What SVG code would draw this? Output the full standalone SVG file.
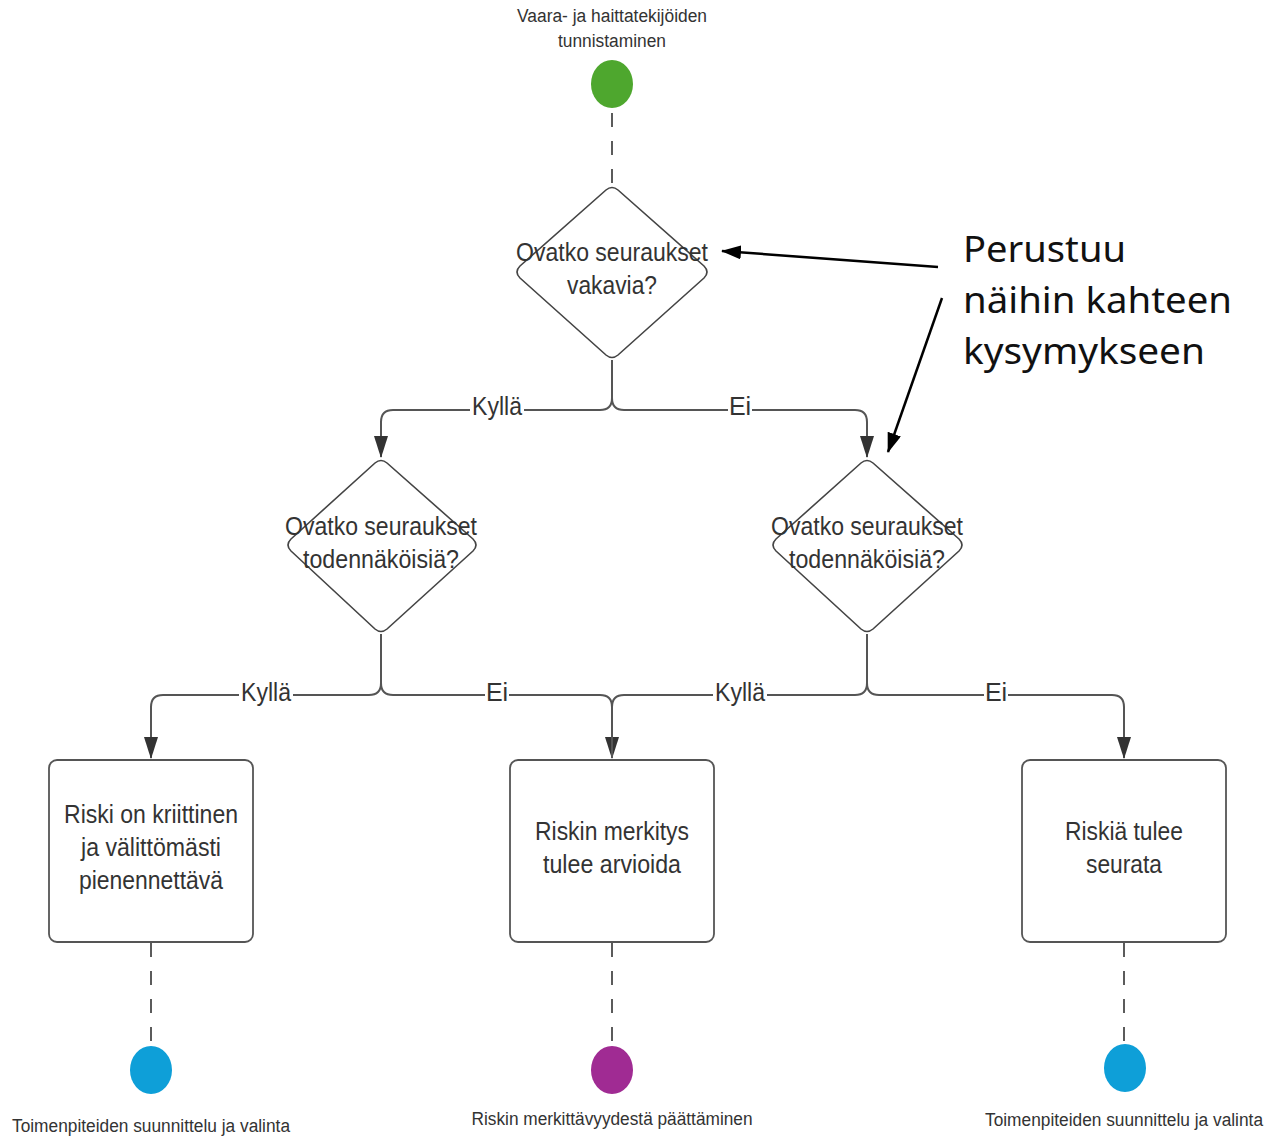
<svg xmlns="http://www.w3.org/2000/svg" width="1286" height="1136" viewBox="0 0 1286 1136">
<style>
.lbl{font-family:"Liberation Sans",Arial,sans-serif;fill:#333;text-anchor:middle}
.big{font-size:25px}
.sm{font-size:18px}
.dia{fill:#fff;stroke:#444;stroke-width:1.6;stroke-linejoin:round}
.box{fill:#fff;stroke:#555;stroke-width:1.8}
.con{fill:none;stroke:#555;stroke-width:2}
.dash{fill:none;stroke:#333;stroke-width:1.6;stroke-dasharray:14 14}
.ann{fill:none;stroke:#000;stroke-width:2.5}
.note{font-family:"Noto Sans","Open Sans",sans-serif;font-size:36px;fill:#111}
</style>
<defs>
<marker id="arr" markerUnits="userSpaceOnUse" markerWidth="14" markerHeight="22" refX="7" refY="21" orient="0" viewBox="0 0 14 22">
<path d="M0,0 L14,0 L7,22 z" fill="#333"/>
</marker>
<marker id="ann" markerUnits="userSpaceOnUse" markerWidth="20" markerHeight="14" refX="19" refY="7" orient="auto" viewBox="0 0 20 14">
<path d="M0,0 L20,7 L0,14 z" fill="#000"/>
</marker>
</defs>
<rect width="1286" height="1136" fill="#fff"/>

<g id="connectors">
<path class="dash" d="M612,113 L612,185"/>
<path class="con" d="M612,360 L612,398 Q612,410 600,410 L393,410 Q381,410 381,422 L381,457" marker-end="url(#arr)"/>
<path class="con" d="M612,360 L612,398 Q612,410 624,410 L855,410 Q867,410 867,422 L867,457" marker-end="url(#arr)"/>
<path class="con" d="M381,634 L381,683 Q381,695 369,695 L163,695 Q151,695 151,707 L151,758" marker-end="url(#arr)"/>
<path class="con" d="M381,634 L381,683 Q381,695 393,695 L600,695 Q612,695 612,707 L612,758" marker-end="url(#arr)"/>
<path class="con" d="M867,634 L867,683 Q867,695 855,695 L624,695 Q612,695 612,707 L612,758"/>
<path class="con" d="M867,634 L867,683 Q867,695 879,695 L1112,695 Q1124,695 1124,707 L1124,758" marker-end="url(#arr)"/>
<path class="dash" d="M151,943 L151,1046"/>
<path class="dash" d="M612,943 L612,1046"/>
<path class="dash" d="M1124,943 L1124,1044"/>
<g class="lbl big">
<rect x="470" y="396" width="54" height="24" fill="#fff"/>
<text x="497" y="415" textLength="50" lengthAdjust="spacingAndGlyphs">Kyllä</text>
<rect x="728" y="396" width="24" height="24" fill="#fff"/>
<text x="740" y="415">Ei</text>
<rect x="239" y="681" width="54" height="24" fill="#fff"/>
<text x="266" y="701" textLength="50" lengthAdjust="spacingAndGlyphs">Kyllä</text>
<rect x="485" y="681" width="24" height="24" fill="#fff"/>
<text x="497" y="701">Ei</text>
<rect x="713" y="681" width="54" height="24" fill="#fff"/>
<text x="740" y="701" textLength="50" lengthAdjust="spacingAndGlyphs">Kyllä</text>
<rect x="984" y="681" width="24" height="24" fill="#fff"/>
<text x="996" y="701">Ei</text>
</g>
</g>

<g id="start">
<text class="lbl sm" x="612" y="22" textLength="190" lengthAdjust="spacingAndGlyphs">Vaara- ja haittatekijöiden</text>
<text class="lbl sm" x="612" y="47" textLength="108" lengthAdjust="spacingAndGlyphs">tunnistaminen</text>
<ellipse cx="612" cy="84" rx="21" ry="24" fill="#4EA72E"/>
</g>

<g id="q1">
<path class="dia" d="M606,190 Q612,185 618,190 L704,266 Q710,272 704,278 L618,355 Q612,360 606,355 L520,278 Q514,272 520,266 Z"/>
<text class="lbl big" x="612" y="261" textLength="192" lengthAdjust="spacingAndGlyphs">Ovatko seuraukset</text>
<text class="lbl big" x="612" y="294" textLength="90" lengthAdjust="spacingAndGlyphs">vakavia?</text>
</g>

<g id="q2">
<path class="dia" d="M375,463 Q381,458 387,463 L473,539 Q479,545 473,551 L387,629 Q381,634 375,629 L291,551 Q285,545 291,539 Z"/>
<text class="lbl big" x="381" y="535" textLength="192" lengthAdjust="spacingAndGlyphs">Ovatko seuraukset</text>
<text class="lbl big" x="381" y="568" textLength="156" lengthAdjust="spacingAndGlyphs">todennäköisiä?</text>
</g>

<g id="q3">
<path class="dia" d="M861,463 Q867,458 873,463 L959,539 Q965,545 959,551 L873,629 Q867,634 861,629 L776,551 Q770,545 776,539 Z"/>
<text class="lbl big" x="867" y="535" textLength="192" lengthAdjust="spacingAndGlyphs">Ovatko seuraukset</text>
<text class="lbl big" x="867" y="568" textLength="156" lengthAdjust="spacingAndGlyphs">todennäköisiä?</text>
</g>

<g id="r1">
<rect class="box" x="49" y="760" width="204" height="182" rx="8"/>
<text class="lbl big" x="151" y="823" textLength="174" lengthAdjust="spacingAndGlyphs">Riski on kriittinen</text>
<text class="lbl big" x="151" y="856" textLength="140" lengthAdjust="spacingAndGlyphs">ja välittömästi</text>
<text class="lbl big" x="151" y="889" textLength="144" lengthAdjust="spacingAndGlyphs">pienennettävä</text>
</g>

<g id="r2">
<rect class="box" x="510" y="760" width="204" height="182" rx="8"/>
<text class="lbl big" x="612" y="840" textLength="154" lengthAdjust="spacingAndGlyphs">Riskin merkitys</text>
<text class="lbl big" x="612" y="873" textLength="138" lengthAdjust="spacingAndGlyphs">tulee arvioida</text>
</g>

<g id="r3">
<rect class="box" x="1022" y="760" width="204" height="182" rx="8"/>
<text class="lbl big" x="1124" y="840" textLength="118" lengthAdjust="spacingAndGlyphs">Riskiä tulee</text>
<text class="lbl big" x="1124" y="873" textLength="76" lengthAdjust="spacingAndGlyphs">seurata</text>
</g>

<g id="end1">
<ellipse cx="151" cy="1070" rx="21" ry="24" fill="#0E9FD8"/>
<text class="lbl sm" x="151" y="1132" textLength="278" lengthAdjust="spacingAndGlyphs">Toimenpiteiden suunnittelu ja valinta</text>
</g>
<g id="end2">
<ellipse cx="612" cy="1070" rx="21" ry="24" fill="#A02B93"/>
<text class="lbl sm" x="612" y="1125" textLength="281" lengthAdjust="spacingAndGlyphs">Riskin merkittävyydestä päättäminen</text>
</g>
<g id="end3">
<ellipse cx="1125" cy="1068" rx="21" ry="24" fill="#0E9FD8"/>
<text class="lbl sm" x="1124" y="1126" textLength="278" lengthAdjust="spacingAndGlyphs">Toimenpiteiden suunnittelu ja valinta</text>
</g>

<g id="annotation">
<path class="ann" d="M938,267 L722,251" marker-end="url(#ann)"/>
<path class="ann" d="M942,298 L888,452" marker-end="url(#ann)"/>
<text class="note" x="963" y="262" textLength="163" lengthAdjust="spacingAndGlyphs">Perustuu</text>
<text class="note" x="963" y="313" textLength="269" lengthAdjust="spacingAndGlyphs">näihin kahteen</text>
<text class="note" x="963" y="364" textLength="242" lengthAdjust="spacingAndGlyphs">kysymykseen</text>
</g>
</svg>
